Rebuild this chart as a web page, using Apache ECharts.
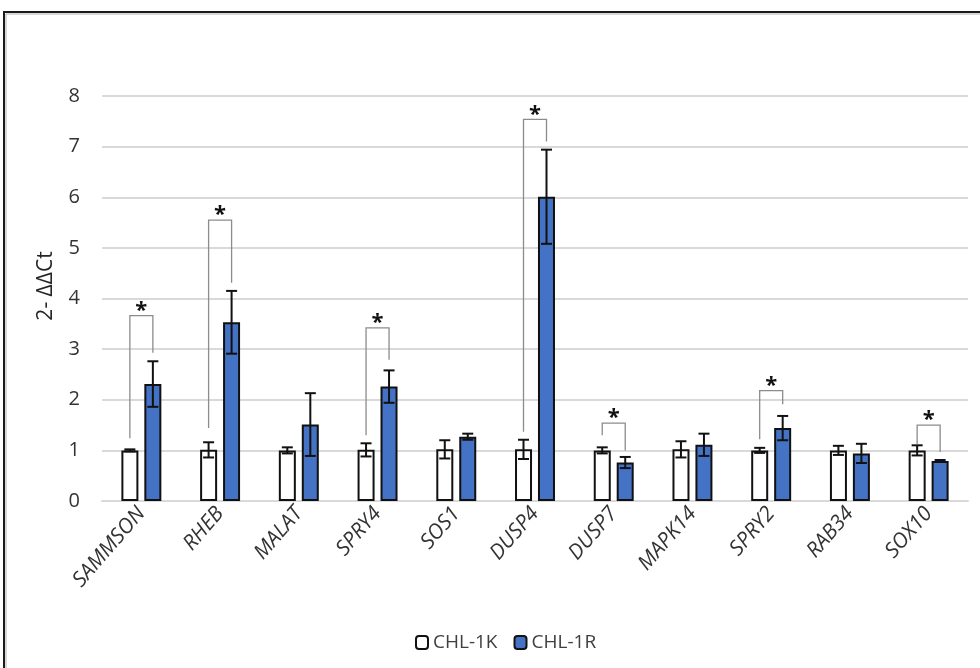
<!DOCTYPE html>
<html>
<head>
<meta charset="utf-8">
<script src="https://cdn.jsdelivr.net/npm/echarts@6/dist/echarts.min.js"></script>
<style>html,body{margin:0;padding:0;background:#fff;}#c{width:980px;height:668px;}</style>
</head>
<body>
<div id="c"></div>
<script>
const categories = ['SAMMSON','RHEB','MALAT','SPRY4','SOS1','DUSP4','DUSP7','MAPK14','SPRY2','RAB34','SOX10'];
const k1Values = [1.00, 1.01, 1.00, 1.01, 1.02, 1.02, 1.00, 1.02, 1.00, 1.00, 1.00];
const k1Errors = [0.02, 0.15, 0.06, 0.13, 0.18, 0.19, 0.06, 0.16, 0.05, 0.09, 0.10];
const r1Values = [2.31, 3.53, 1.51, 2.26, 1.27, 6.01, 0.76, 1.11, 1.44, 0.94, 0.79];
const r1Errors = [0.45, 0.62, 0.62, 0.32, 0.06, 0.93, 0.11, 0.22, 0.24, 0.19, 0.02];
const sigCategories = [0, 1, 3, 5, 6, 8, 10];
const sigLeftLeg   = [1.24, 1.44, 1.30, 1.37, 1.30, 1.22, 1.12];
const sigTop       = [3.66, 5.55, 3.42, 7.54, 1.54, 2.18, 1.50];
const sigRightLeg  = [2.93, 4.31, 2.79, 7.10, 1.00, 1.91, 0.97];
const yTicks = [0, 1, 2, 3, 4, 5, 6, 7, 8];
const yAxisTitle = '2- ΔΔCt';

const BAR_W = 17;
const OFFSET = 11.5;
const CAP = 5.5;
const FONT = '"Open Sans", "Liberation Sans", sans-serif';

function errData(vals, errs) {
  return vals.map((v, i) => [i, v - errs[i], v + errs[i]]);
}
function errRender(dir) {
  return function (params, api) {
    const i = api.value(0);
    const lo = api.coord([i, api.value(1)]);
    const hi = api.coord([i, api.value(2)]);
    const x = lo[0] + dir * OFFSET;
    const st = { stroke: '#111', lineWidth: 2 };
    return {
      type: 'group',
      children: [
        { type: 'line', shape: { x1: x, y1: lo[1], x2: x, y2: hi[1] }, style: st },
        { type: 'line', shape: { x1: x - CAP, y1: lo[1], x2: x + CAP, y2: lo[1] }, style: st },
        { type: 'line', shape: { x1: x - CAP, y1: hi[1], x2: x + CAP, y2: hi[1] }, style: st }
      ]
    };
  };
}
const sigData = sigCategories.map((c, j) => [c, sigLeftLeg[j], sigTop[j], sigRightLeg[j]]);

const chart = echarts.init(document.getElementById('c'), null, { renderer: 'canvas' });
chart.setOption({
  animation: false,
  backgroundColor: '#fff',
  textStyle: { fontFamily: FONT },
  graphic: [
    { type: 'rect', shape: { x: 4, y: 12, width: 1000, height: 700 }, style: { fill: 'none', stroke: '#1a1a1a', lineWidth: 2 }, z: 100 },
    { type: 'rect', shape: { x: 6, y: 14, width: 1000, height: 700 }, style: { fill: 'none', stroke: '#b0b0b0', lineWidth: 1 }, z: 100 },
    { type: 'text', x: 46, y: 286, rotation: Math.PI / 2,
      style: { text: yAxisTitle, align: 'center', verticalAlign: 'middle', font: '21px ' + FONT, fill: '#262626' } }
  ],
  grid: { left: 102, right: 12, top: 96, bottom: 167 },
  legend: {
    top: 628, left: 410,
    itemWidth: 12, itemHeight: 13, itemGap: 16,
    textStyle: { fontSize: 19, color: '#404040', fontFamily: FONT },
    data: ['CHL-1K', 'CHL-1R']
  },
  xAxis: {
    type: 'category', data: categories,
    axisLine: { lineStyle: { color: '#d9d9d9', width: 2 } },
    axisTick: { show: false },
    axisLabel: { rotate: 49, interval: 0, fontStyle: 'italic', fontSize: 21, color: '#333', margin: 9, fontFamily: FONT }
  },
  yAxis: {
    type: 'value', min: 0, max: 8, interval: 1,
    axisLine: { show: false }, axisTick: { show: false },
    axisLabel: { fontSize: 20, color: '#333', margin: 22, fontFamily: FONT,
      formatter: v => yTicks.includes(v) ? String(v) : '' },
    splitLine: { lineStyle: { color: '#d9d9d9', width: 2 } }
  },
  series: [
    { name: 'CHL-1K', type: 'bar', data: k1Values, barWidth: BAR_W, barGap: '35%',
      itemStyle: { color: '#ffffff', borderColor: '#111', borderWidth: 2 } },
    { name: 'CHL-1R', type: 'bar', data: r1Values, barWidth: BAR_W,
      itemStyle: { color: '#4472c4', borderColor: '#111', borderWidth: 2 } },
    { type: 'custom', data: errData(k1Values, k1Errors), renderItem: errRender(-1), z: 5, silent: true },
    { type: 'custom', data: errData(r1Values, r1Errors), renderItem: errRender(1), z: 5, silent: true },
    { type: 'custom', data: sigData, z: 6, silent: true,
      renderItem: function (params, api) {
        const c = api.value(0);
        const l = api.coord([c, api.value(1)]);
        const t = api.coord([c, api.value(2)]);
        const r = api.coord([c, api.value(3)]);
        const xl = l[0] - OFFSET, xr = l[0] + OFFSET;
        const st = { stroke: '#8c8c8c', lineWidth: 1.3, fill: 'none' };
        return {
          type: 'group',
          children: [
            { type: 'polyline', shape: { points: [[xl, l[1]], [xl, t[1]], [xr, t[1]], [xr, r[1]]] }, style: st },
            { type: 'text', style: { text: '*', x: l[0], y: t[1] - 5, align: 'center', verticalAlign: 'middle', fill: '#111', font: 'bold 22px ' + FONT } }
          ]
        };
      }
    }
  ]
});
</script>
</body>
</html>
